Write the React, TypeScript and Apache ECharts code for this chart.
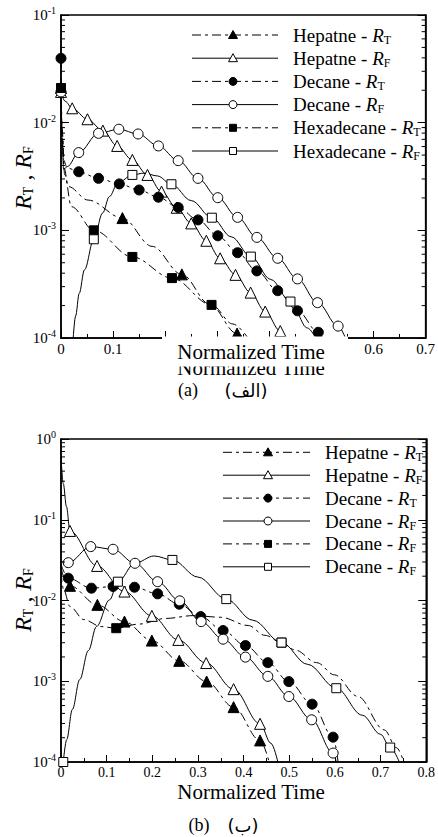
import React, { useEffect, useRef } from "react";
import * as echarts from "echarts";

const FONT = "Liberation Serif";
const AR_FONT = "DejaVu Sans";

// ---------- chart (a) ----------
const aXMax = 0.7;
const aExpMin = -4;
const aExpMax = -1;
const aNames = ["Hepatne", "Hepatne", "Decane", "Decane", "Hexadecane", "Hexadecane"];
const aSubs = ["T", "F", "T", "F", "T", "F"];
// tick labels hidden under the pasted "Normalized Time" box in the reference
const aCoveredTicks = [0.2, 0.3, 0.4, 0.5];
// [time, value, marker?]
const aHeptRT = [[0, 0.021, 1], [0.002, 0.008, 0], [0.006, 0.0038, 0], [0.014, 0.00255, 0], [0.052, 0.00191, 0], [0.118, 0.0013, 1], [0.175, 0.00071, 0], [0.232, 0.00039, 1], [0.285, 0.000207, 0], [0.338, 0.00011, 1], [0.352, 0.0001, 0]];
const aHeptRF = [[0, 0.0193, 1], [0.008, 0.0158, 0], [0.0215, 0.0136, 1], [0.0508, 0.01076, 1], [0.0804, 0.00843, 1], [0.1078, 0.00608, 1], [0.137, 0.00451, 1], [0.166, 0.00327, 1], [0.193, 0.00229, 1], [0.222, 0.00162, 1], [0.25, 0.00116, 1], [0.279, 0.0008, 1], [0.3055, 0.00055, 1], [0.335, 0.000386, 1], [0.364, 0.000264, 1], [0.392, 0.000176, 1], [0.421, 0.000116, 1], [0.432, 0.0001, 0]];
const aDecRT = [[0, 0.0396, 1], [0.002, 0.009, 0], [0.005, 0.0045, 0], [0.012, 0.0038, 0], [0.034, 0.0035, 1], [0.072, 0.00304, 1], [0.112, 0.0027, 1], [0.15, 0.00237, 1], [0.187, 0.00203, 1], [0.225, 0.00163, 1], [0.263, 0.00125, 1], [0.301, 0.00089, 1], [0.339, 0.00062, 1], [0.376, 0.00042, 1], [0.416, 0.000275, 1], [0.454, 0.000179, 1], [0.494, 0.000113, 1], [0.502, 0.0001, 0]];
const aDecRF = [[0, 0.0193, 1], [0.002, 0.007, 0], [0.005, 0.0037, 0], [0.012, 0.0039, 0], [0.034, 0.00527, 1], [0.072, 0.00796, 1], [0.111, 0.00869, 1], [0.148, 0.00785, 1], [0.187, 0.00608, 1], [0.225, 0.00444, 1], [0.263, 0.00304, 1], [0.301, 0.00201, 1], [0.339, 0.00132, 1], [0.376, 0.00086, 1], [0.416, 0.00055, 1], [0.454, 0.000354, 1], [0.4925, 0.000213, 1], [0.532, 0.000129, 1], [0.546, 0.0001, 0]];
const aHexRT = [[0, 0.021, 1], [0.002, 0.009, 0], [0.007, 0.0033, 0], [0.02, 0.00166, 0], [0.063, 0.001, 1], [0.137, 0.000566, 1], [0.213, 0.00036, 1], [0.289, 0.000203, 1], [0.33, 0.000135, 0], [0.359, 0.0001, 0]];
const aHexRF = [[0.0234, 0.0001, 0], [0.028, 0.00016, 0], [0.035, 0.00026, 0], [0.045, 0.00043, 0], [0.063, 0.000826, 1], [0.08, 0.00145, 0], [0.093, 0.00206, 0], [0.109, 0.00275, 0], [0.137, 0.00327, 1], [0.16, 0.0034, 0], [0.185, 0.0032, 0], [0.212, 0.00268, 1], [0.25, 0.00189, 0], [0.2896, 0.00131, 1], [0.327, 0.00087, 0], [0.3645, 0.00057, 1], [0.4025, 0.00035, 0], [0.4405, 0.000218, 1], [0.473, 0.000124, 0], [0.489, 0.0001, 0]];

// ---------- chart (b) ----------
const bXMax = 0.8;
const bExpMin = -4;
const bExpMax = 0;
const bNames = ["Hepatne", "Hepatne", "Decane", "Decane", "Decane", "Decane"];
const bSubs = ["T", "F", "T", "F", "F", "F"];
const bHeptRT = [[0, 0.026, 0], [0.006, 0.02, 0], [0.0196, 0.0152, 1], [0.0797, 0.00883, 1], [0.139, 0.00548, 1], [0.199, 0.00319, 1], [0.259, 0.00179, 1], [0.319, 0.000993, 1], [0.378, 0.000478, 1], [0.436, 0.000185, 1], [0.456, 0.0001, 0]];
const bHeptRF = [[0, 0.6, 0], [0.005, 0.28, 0], [0.012, 0.145, 0], [0.0196, 0.0727, 1], [0.079, 0.0268, 1], [0.139, 0.0129, 1], [0.199, 0.00645, 1], [0.257, 0.00325, 1], [0.318, 0.00168, 1], [0.378, 0.000798, 1], [0.436, 0.000297, 1], [0.46, 0.00017, 0], [0.475, 0.0001, 0]];
const bDecRT = [[0, 0.028, 0], [0.016, 0.0189, 1], [0.0667, 0.0142, 1], [0.114, 0.0149, 1], [0.161, 0.0146, 1], [0.2116, 0.0121, 1], [0.259, 0.009, 1], [0.306, 0.00632, 1], [0.355, 0.00425, 1], [0.404, 0.00277, 1], [0.453, 0.0017, 1], [0.499, 0.00099, 1], [0.55, 0.00052, 1], [0.596, 0.000203, 1], [0.607, 0.0001, 0]];
const bDecRF = [[0, 0.0303, 0], [0.016, 0.0294, 1], [0.065, 0.0465, 1], [0.114, 0.0431, 1], [0.162, 0.0289, 1], [0.2116, 0.0171, 1], [0.26, 0.0099, 1], [0.307, 0.00548, 1], [0.355, 0.00332, 1], [0.404, 0.00199, 1], [0.453, 0.00115, 1], [0.499, 0.000647, 1], [0.549, 0.000333, 1], [0.596, 0.000129, 1], [0.603, 0.0001, 0]];
const bDecRF2 = [[0, 0.022, 0], [0.005, 0.014, 0], [0.02, 0.0084, 0], [0.05, 0.0058, 0], [0.088, 0.00475, 0], [0.121, 0.00454, 1], [0.17, 0.0051, 0], [0.23, 0.006, 0], [0.29, 0.0065, 0], [0.35, 0.0062, 0], [0.41, 0.0049, 0], [0.447, 0.0037, 0], [0.483, 0.00301, 1], [0.512, 0.00245, 0], [0.56, 0.0017, 0], [0.599, 0.0012, 0], [0.65, 0.00065, 0], [0.708, 0.00025, 0], [0.735, 0.00015, 0], [0.751, 0.0001, 0]];
const bDecRF3 = [[0.005, 0.0001, 1], [0.0123, 0.000188, 0], [0.025, 0.00045, 0], [0.041, 0.00105, 0], [0.06, 0.0024, 0], [0.0776, 0.00475, 0], [0.1065, 0.0102, 0], [0.1246, 0.0171, 1], [0.162, 0.029, 0], [0.204, 0.0356, 0], [0.244, 0.0318, 1], [0.3, 0.0195, 0], [0.362, 0.0104, 1], [0.42, 0.0057, 0], [0.483, 0.00301, 1], [0.54, 0.00162, 0], [0.603, 0.00082, 1], [0.66, 0.00038, 0], [0.7, 0.00022, 0], [0.721, 0.000151, 1], [0.741, 0.0001, 0]];

const aSeries = [aHeptRT, aHeptRF, aDecRT, aDecRF, aHexRT, aHexRF];
const bSeries = [bHeptRT, bHeptRF, bDecRT, bDecRF, bDecRF2, bDecRF3];

const STYLE = [
  { sym: "triangle", filled: true, dashed: true },
  { sym: "triangle", filled: false, dashed: false },
  { sym: "circle", filled: true, dashed: true },
  { sym: "circle", filled: false, dashed: false },
  { sym: "rect", filled: true, dashed: true },
  { sym: "rect", filled: false, dashed: false },
];
const DASH = [9, 4, 3, 4];

function minorTicks(e0: number, e1: number) {
  const out: number[] = [];
  for (let e = e0; e < e1; e++) for (let k = 2; k <= 9; k++) out.push(k * Math.pow(10, e));
  return out;
}

function lineSeries(id: string, data: number[][], st: any, gi: number, extra: any = {}) {
  const size = st.sym === "triangle" ? 11 : st.sym === "circle" ? 10 : 9;
  return {
    type: "line",
    id,
    name: id,
    xAxisIndex: gi,
    yAxisIndex: gi * 2,
    data: data.map((d) => ({ value: [d[0], d[1]], symbol: d[2] ? st.sym : "none" })),
    symbol: st.sym,
    symbolSize: size,
    showSymbol: true,
    showAllSymbol: true,
    smooth: 0.35,
    smoothMonotone: "x",
    lineStyle: { color: "#000", width: 1, type: st.dashed ? DASH : "solid" },
    itemStyle: { color: st.filled ? "#000" : "#fff", borderColor: "#000", borderWidth: 1, opacity: 1 },
    emphasis: { disabled: true },
    silent: true,
    z: 3,
    clip: true,
    ...extra,
  };
}

function minorSeries(gi: number, ticks: number[], xmax: number) {
  return {
    type: "custom",
    xAxisIndex: gi,
    yAxisIndex: gi * 2,
    silent: true,
    clip: false,
    z: 5,
    data: ticks.map((v) => [0, v]),
    renderItem: (params: any, api: any) => {
      const v = api.value(1);
      const l = api.coord([0, v]);
      const r = api.coord([xmax, v]);
      return {
        type: "group",
        children: [
          { type: "line", shape: { x1: l[0], y1: l[1], x2: l[0] + 4, y2: l[1] }, style: { stroke: "#000", lineWidth: 1 } },
          { type: "line", shape: { x1: r[0] - 4, y1: r[1], x2: r[0], y2: r[1] }, style: { stroke: "#000", lineWidth: 1 } },
        ],
      };
    },
  };
}

function xAxisCfg(gi: number, max: number, fs: number, hidden: number[]) {
  return {
    gridIndex: gi,
    type: "value",
    min: 0,
    max,
    interval: 0.1,
    axisLine: { show: true, onZero: false, lineStyle: { color: "#000", width: 1.5 } },
    axisTick: { show: true, inside: true, length: 7, lineStyle: { color: "#000", width: 1 } },
    minorTick: { show: true, splitNumber: 2, length: 4, lineStyle: { color: "#000", width: 1 } },
    axisLabel: {
      color: "#000",
      fontFamily: FONT,
      fontSize: fs,
      margin: 3,
      formatter: (v: number) => {
        if (hidden.some((h) => Math.abs(h - v) < 1e-6)) return "";
        return Math.abs(v) < 1e-9 ? "0" : v.toFixed(1);
      },
    },
    splitLine: { show: false },
  };
}

function yAxisCfg(gi: number, e0: number, e1: number, right: boolean, fs: number) {
  return {
    gridIndex: gi,
    type: "log",
    logBase: 10,
    min: Math.pow(10, e0),
    max: Math.pow(10, e1),
    position: right ? "right" : "left",
    axisLine: { show: true, lineStyle: { color: "#000", width: 1.5 } },
    axisTick: { show: true, inside: true, length: 8, lineStyle: { color: "#000", width: 1 } },
    axisLabel: {
      show: !right,
      margin: 5,
      color: "#000",
      fontFamily: FONT,
      fontSize: fs,
      formatter: (v: number) => `{b|10}{s|${Math.round(Math.log10(v))}}`,
      rich: {
        b: { fontFamily: FONT, fontSize: fs, color: "#000" },
        s: { fontFamily: FONT, fontSize: 10, color: "#000", padding: [0, 0, 9, 0] },
      },
    },
    splitLine: { show: false },
  };
}

function legendEls(x0: number, x1: number, xm: number, xt: number, yStart: number, dy: number, names: string[], subs: string[]) {
  const els: any[] = [];
  names.forEach((name, i) => {
    const st = STYLE[i];
    const y = yStart + i * dy;
    els.push({ type: "line", z: 20, shape: { x1: x0, y1: y, x2: x1, y2: y }, style: { stroke: "#000", lineWidth: 1, lineDash: st.dashed ? DASH : null } });
    const mstyle = { fill: st.filled ? "#000" : "#fff", stroke: "#000", lineWidth: 1 };
    if (st.sym === "triangle") {
      els.push({ type: "polygon", z: 21, shape: { points: [[xm, y - 4.5], [xm - 4.5, y + 3.5], [xm + 4.5, y + 3.5]] }, style: mstyle });
    } else if (st.sym === "circle") {
      els.push({ type: "circle", z: 21, shape: { cx: xm, cy: y, r: 4 }, style: mstyle });
    } else {
      els.push({ type: "rect", z: 21, shape: { x: xm - 3.5, y: y - 3.5, width: 7, height: 7 }, style: mstyle });
    }
    els.push({
      type: "text",
      z: 21,
      x: xt,
      y,
      style: {
        text: `{n|${name} - }{i|R}{s|${subs[i]}}`,
        font: `19px ${FONT}`,
        fill: "#000",
        align: "left",
        verticalAlign: "middle",
        rich: {
          n: { fontFamily: FONT, fontSize: 19, fill: "#000" },
          i: { fontFamily: FONT, fontSize: 19, fontStyle: "italic", fill: "#000" },
          s: { fontFamily: FONT, fontSize: 12, fill: "#000", padding: [9, 0, 0, 0] },
        },
      },
    });
  });
  return els;
}

function yTitle(y: number) {
  return {
    type: "text",
    z: 20,
    x: 23,
    y,
    rotation: Math.PI / 2,
    style: {
      text: "{i|R}{s|T}{n| , }{i|R}{s|F}",
      align: "center",
      verticalAlign: "middle",
      fill: "#000",
      font: `24px ${FONT}`,
      rich: {
        i: { fontFamily: FONT, fontSize: 24, fontStyle: "italic", fill: "#000" },
        n: { fontFamily: FONT, fontSize: 24, fill: "#000" },
        s: { fontFamily: FONT, fontSize: 14, fill: "#000", padding: [11, 0, 0, 0] },
      },
    },
  };
}

function txt(text: string, x: number, y: number, fs: number, z = 20, font = FONT) {
  return { type: "text", z, x, y, style: { text, font: `${fs}px ${font}`, fill: "#000", align: "center", verticalAlign: "middle" } };
}

export default function App() {
  const ref = useRef<HTMLDivElement>(null);
  useEffect(() => {
    if (!ref.current) return;
    const chart = echarts.init(ref.current, null, { renderer: "svg" });
    const series: any[] = [];
    aSeries.forEach((d, i) => {
      const extra =
        i === 0
          ? {
              markLine: {
                silent: true,
                symbol: ["none", "none"],
                label: { show: false },
                lineStyle: { color: "#000", width: 1.5, type: [54, 24], dashOffset: 36 },
                data: [{ yAxis: 0.001 }],
              },
            }
          : {};
      series.push(lineSeries("a" + i, d, STYLE[i], 0, extra));
    });
    bSeries.forEach((d, i) => {
      const extra =
        i === 0
          ? {
              markLine: {
                silent: true,
                symbol: ["none", "none"],
                label: { show: false },
                lineStyle: { color: "#000", width: 1.5, type: [20, 18], dashOffset: 0 },
                data: [{ yAxis: 0.001 }],
              },
            }
          : {};
      series.push(lineSeries("b" + i, d, STYLE[i], 1, extra));
    });
    series.push(minorSeries(0, minorTicks(aExpMin, aExpMax), aXMax));
    series.push(minorSeries(1, minorTicks(bExpMin, bExpMax), bXMax));

    const graphic: any[] = [
      ...legendEls(192, 278, 233, 293, 35, 23.2, aNames, aSubs),
      ...legendEls(223, 310, 268, 325, 452.3, 22.9, bNames, bSubs),
      yTitle(178),
      yTitle(600),
      txt("Normalized Time", 251, 368, 21, 50),
      { type: "rect", z: 100, shape: { x: 162, y: 336.5, width: 186, height: 30 }, style: { fill: "#fff" } },
      txt("Normalized Time", 251, 352, 21, 101),
      txt("(a)", 188, 390, 18),
      txt("(الف)", 246, 390, 18, 20, AR_FONT),
      txt("Normalized Time", 251, 792, 21),
      txt("(b)", 199, 825, 18),
      txt("(ب)", 243, 825, 18, 20, AR_FONT),
    ];

    chart.setOption({
      animation: false,
      backgroundColor: "#fff",
      textStyle: { fontFamily: FONT },
      grid: [
        { left: 61, top: 15, width: 368, height: 323, show: true, borderColor: "#000", borderWidth: 1.5, backgroundColor: "transparent" },
        { left: 61, top: 439, width: 368, height: 323, show: true, borderColor: "#000", borderWidth: 1.5, backgroundColor: "transparent" },
      ],
      xAxis: [xAxisCfg(0, aXMax, 15, aCoveredTicks), xAxisCfg(1, bXMax, 14, [])],
      yAxis: [
        yAxisCfg(0, aExpMin, aExpMax, false, 15),
        yAxisCfg(0, aExpMin, aExpMax, true, 15),
        yAxisCfg(1, bExpMin, bExpMax, false, 15),
        yAxisCfg(1, bExpMin, bExpMax, true, 15),
      ],
      series,
      graphic,
    });
    return () => chart.dispose();
  }, []);
  return <div ref={ref} style={{ position: "absolute", left: 0, top: 0, width: 438, height: 837, background: "#fff" }} />;
}
